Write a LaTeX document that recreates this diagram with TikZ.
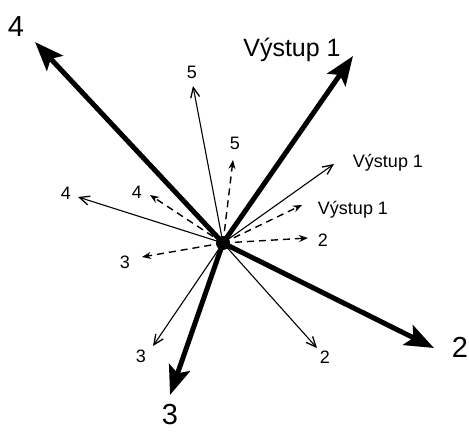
\documentclass[tikz,border=0pt]{standalone}
\usepackage{fontspec}
\setmainfont{Liberation Sans}
\usetikzlibrary{arrows.meta}
\begin{document}
\begin{tikzpicture}[x=1pt,y=-1pt,
  big/.style={line width=5pt,-{Stealth[length=29pt,width=22pt,inset=6pt]}},
  thin/.style={line width=1.1pt,-{Straight Barb[length=10pt,width=9pt,line width=1.3pt]}},
  dsh/.style={line width=1.4pt,dash pattern=on 7pt off 5pt,-{Stealth[length=9pt,width=7pt]}},
  blab/.style={font=\fontsize{29}{29}\selectfont,inner sep=0pt},
  btxt/.style={font=\fontsize{25}{25}\selectfont,inner sep=0pt},
  slab/.style={font=\fontsize{18}{18}\selectfont,inner sep=0pt},
  stxt/.style={font=\fontsize{18}{18}\selectfont,inner sep=0pt},
  hub/.style={circle,fill=black,inner sep=0pt,minimum size=14pt}]
\useasboundingbox (0,0) rectangle (469,433);
\node[hub] (c) at (223,243) {};
% tips
\coordinate (t4) at (35,42);
\coordinate (tV) at (353,56);
\coordinate (t2) at (434,348);
\coordinate (t3) at (170,395);
\coordinate (s5) at (193,86);
\coordinate (sV) at (334,164);
\coordinate (s4) at (78,197);
\coordinate (s3) at (153,346);
\coordinate (s2) at (317,348);
\coordinate (d5) at (233,160);
\coordinate (d4) at (150,195);
\coordinate (dV) at (302,205);
\coordinate (d2) at (308,238);
\coordinate (d3) at (142,257);
% labels
\node[blab] (l4) at (16,27) {4};
\node[btxt] (lV) at (292,50) {Výstup 1};
\node[blab] (l2) at (460,347) {2};
\node[blab] (l3) at (170,415) {3};
\node[slab] (m5) at (192,72) {5};
\node[stxt] (mV) at (388,163) {Výstup 1};
\node[slab] (m4) at (66,193) {4};
\node[slab] (m3) at (141,356) {3};
\node[slab] (m2) at (325,357) {2};
\node[slab] (n5) at (235,143) {5};
\node[slab] (n4) at (137,192) {4};
\node[stxt] (nV) at (353,210) {Výstup 1};
\node[slab] (n2) at (323,240) {2};
\node[slab] (n3) at (125,262) {3};
% arrows
\draw[thin] (c.center) -- (s5);
\draw[thin] (c.center) -- (sV);
\draw[thin] (c.center) -- (s4);
\draw[thin] (c.center) -- (s3);
\draw[thin] (c.center) -- (s2);
\draw[dsh] (c.center) -- (d5);
\draw[dsh] (c.center) -- (d4);
\draw[dsh] (c.center) -- (dV);
\draw[dsh] (c.center) -- (d2);
\draw[dsh] (c.center) -- (d3);
\draw[big] (c.center) -- (t4);
\draw[big] (c.center) -- (tV);
\draw[big] (c.center) -- (t2);
\draw[big] (c.center) -- (t3);
\end{tikzpicture}
\end{document}
